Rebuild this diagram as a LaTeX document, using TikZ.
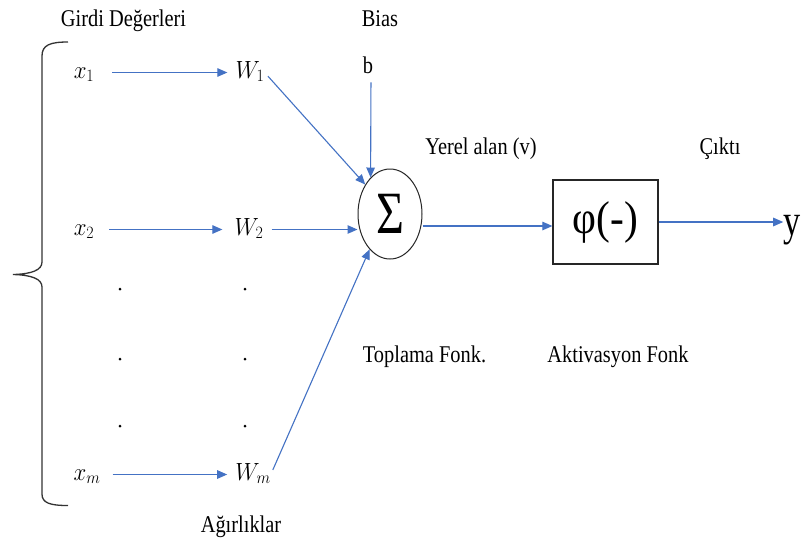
\documentclass[tikz,border=0pt]{standalone}
\usepackage{fontspec}
\setmainfont{Liberation Serif}
\usepackage{graphicx}
\usetikzlibrary{arrows.meta,shapes.geometric}
\definecolor{lineblue}{RGB}{68,114,196}
\begin{document}
\begin{tikzpicture}[x=1pt,y=-1pt,
  lbl/.style={font=\fontsize{24}{28}\selectfont, xscale=0.85, inner sep=0pt, anchor=base},
  mlbl/.style={font=\fontsize{27}{30}\selectfont, xscale=0.92, inner sep=0pt, text height=17pt, text depth=6pt},
  arr/.style={draw=lineblue, line width=1.1pt, -{Triangle[length=10pt,width=8.5pt]}},
  dotmark/.style={circle, fill=black, inner sep=0pt, minimum size=3pt}]
\fill[white] (0,0) rectangle (808,542);
\useasboundingbox (0,0) rectangle (808,542);

% labels
\node[lbl] (girdi) at (123.5,26) {Girdi Değerleri};
\node[lbl] (bias) at (380,26) {Bias};
\node[lbl] (b) at (368,73) {b};
\node[lbl] (yerel) at (481,154) {Yerel alan (v)};
\node[lbl] (cikti) at (720,154) {Çıktı};
\node[lbl] (topl) at (424.5,362) {Toplama Fonk.};
\node[lbl] (aktiv) at (618,362) {Aktivasyon Fonk};
\node[lbl] (agir) at (241,532) {Ağırlıklar};

% inputs and weights
\node[mlbl] (x1) at (84,72.5) {$x_1$};
\node[mlbl] (w1) at (250,72.5) {$W_1$};
\node[mlbl] (x2) at (84,229.5) {$x_2$};
\node[mlbl] (w2) at (249,229.5) {$W_2$};
\node[mlbl] (xm) at (87,474.5) {$x_m$};
\node[mlbl] (wm) at (253,474.5) {$W_m$};

% dots
\foreach \yy [count=\i] in {289,359,426}{
  \node[dotmark] (dl\i) at (120,\yy) {};
  \node[dotmark] (dr\i) at (245,\yy) {};
}

% summation and activation
\node[draw=black!85, line width=1pt, ellipse, minimum width=64pt, minimum height=90pt,
      inner sep=0pt, font=\fontsize{60}{64}\selectfont] (sum) at (390,214) {\scalebox{0.8}[1]{Σ}};
\node[draw=black!85, line width=1.2pt, minimum width=105pt, minimum height=84pt,
      inner sep=0pt, font=\fontsize{46}{50}\selectfont] (phi) at (605.5,222) {\scalebox{0.9}[1]{φ(-)}};
\node[font=\fontsize{44}{48}\selectfont, inner sep=0pt, anchor=base] (yout) at (792,235) {\scalebox{0.78}[1]{y}};

% brace
\draw[black!80, line width=1.3pt] (68,42) .. controls (50,42) and (42,45) .. (42,56)
  -- (42,262) .. controls (42,270) and (32,274) .. (13,274.5)
  .. controls (32,275) and (42,279) .. (42,287)
  -- (42,494) .. controls (42,503) and (50,505.5) .. (68,505.5);

% connectors
\draw[arr, shorten <=18pt, shorten >=8pt] (x1.east) -- (w1.west);
\draw[arr, shorten <=15pt, shorten >=12pt] (x2.east) -- (w2.west);
\draw[arr, shorten <=12pt, shorten >=8pt] (xm.east) -- (wm.west);
\draw[arr, shorten <=5pt] (w1.east) -- (sum.130);
\draw[arr, shorten <=8pt] (w2.east) -- (w2.east -| sum.west);
\draw[arr, shorten <=5pt] (wm.east) -- (sum.240);
\draw[arr, shorten <=9pt] ([xshift=3pt]b.south) -- (sum.118);
\draw[arr] ([yshift=-12pt]sum.east) -- ([yshift=-12pt]sum.east -| phi.west);
\draw[arr] (phi.east) -- (phi.east -| yout.west);
\end{tikzpicture}
\end{document}
